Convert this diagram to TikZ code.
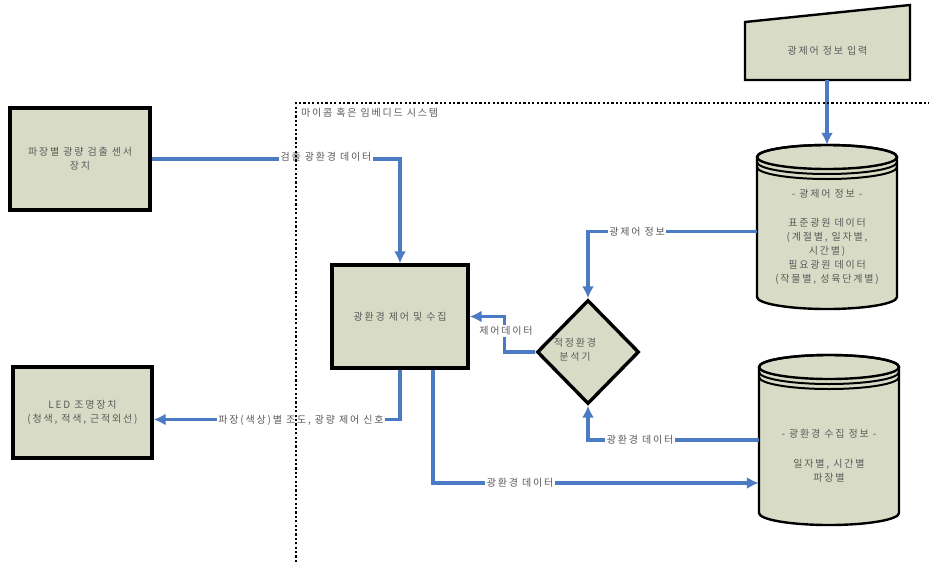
\documentclass[tikz,border=0pt]{standalone}
\usepackage{fontspec}
\setmainfont{Noto Sans CJK KR}[LetterSpace=18]
\usetikzlibrary{arrows.meta,shapes.geometric,calc}
\definecolor{boxfill}{HTML}{D8DCC6}
\definecolor{conblue}{HTML}{4A7BC4}
\definecolor{txtgray}{HTML}{5A5A5A}
\tikzset{
  base/.style={font=\fontsize{10}{14}\selectfont, text=txtgray, align=center},
  blockbox/.style={base, draw=black, line width=3.4pt, fill=boxfill, inner sep=0pt},
  conn/.style={draw=conblue, line width=3.2pt, -{Latex[length=12pt,width=12pt]}},
  lbl/.style={base, fill=white, inner sep=1.5pt},
  cylline/.style={draw=black, line width=2.4pt, fill=boxfill},
  sysframe/.style={draw=black, line width=2.2pt, dash pattern=on 2.2pt off 2.2pt},
  ghost/.style={inner sep=0pt, draw=none}
}
\begin{document}
\begin{tikzpicture}[x=1pt,y=-1pt]
\useasboundingbox (0,0) rectangle (929,562);

% manual input trapezoid
\path[cylline] (745,22) -- (910,5) -- (910,80) -- (745,80) -- cycle;
\node[base, ghost, minimum width=165pt, minimum height=58pt] (input) at (827.5,51) {광제어 정보 입력};

% cylinder 1
\path[cylline] (757,157) -- (757,297) arc[start angle=180,end angle=360,x radius=70pt,y radius=12pt]
  -- (897,157) arc[start angle=0,end angle=180,x radius=70pt,y radius=12pt] -- cycle;
\draw[line width=2.4pt] (827,157) ellipse [x radius=70pt, y radius=12pt];
\draw[line width=2pt] (757,162) arc[start angle=180,end angle=360,x radius=70pt,y radius=12pt];
\draw[line width=2pt] (757,167) arc[start angle=180,end angle=360,x radius=70pt,y radius=12pt];
\node[ghost, minimum width=140pt, minimum height=164pt] (cyl1) at (827,227) {};
\node[base] (c1t) at (827,237) {- 광제어 정보 -\\[15pt]표준광원 데이터\\(계절별, 일자별,\\시간별)\\필요광원 데이터\\(작물별, 성육단계별)};

% cylinder 2
\path[cylline] (759,367) -- (759,513) arc[start angle=180,end angle=360,x radius=70pt,y radius=12pt]
  -- (899,367) arc[start angle=0,end angle=180,x radius=70pt,y radius=12pt] -- cycle;
\draw[line width=2.4pt] (829,367) ellipse [x radius=70pt, y radius=12pt];
\draw[line width=2pt] (759,372) arc[start angle=180,end angle=360,x radius=70pt,y radius=12pt];
\draw[line width=2pt] (759,377) arc[start angle=180,end angle=360,x radius=70pt,y radius=12pt];
\node[ghost, minimum width=140pt, minimum height=170pt] (cyl2) at (829,440) {};
\node[base] (c2t) at (829,456) {- 광환경 수집 정보 -\\[16pt]일자별, 시간별\\파장별};

% boxes
\node[blockbox, minimum width=140pt, minimum height=102pt] (sensor) at (80,159) {파장별 광량 검출 센서\\장치};
\node[blockbox, minimum width=136pt, minimum height=103pt] (center) at (400,316.5) {광환경 제어 및 수집};
\node[blockbox, minimum width=139pt, minimum height=91pt] (led) at (82.5,412.5) {LED 조명장치\\(청색, 적색, 근적외선)};
\node[blockbox, diamond, minimum width=102pt, minimum height=104pt] (dia) at (588,352) {};
\node[base] (diat) at (575,350) {적정환경\\분석기};

% connectors
\draw[conn] (input.south -| cyl1.north) -- (cyl1.north);
\draw[conn] (sensor.east) -| (center.north);
\draw[conn] ([yshift=-4.5pt]cyl1.west) -| (dia.north);
\draw[conn] (dia.west) -- ++(-31pt,0pt) |- (center.east);
\draw[conn] (cyl2.west) -| (dia.south);
\draw[conn] ([xshift=33pt]center.south) |- ([yshift=-43pt]cyl2.west);
\draw[conn] (center.south) |- ([yshift=-7pt]led.east);

% labels
\node[lbl] (l1) at (326,157) {검출 광환경 데이터};
\node[lbl] (l2) at (637,231.5) {광제어 정보};
\node[lbl] (l3) at (506,331) {제어데이터};
\node[lbl] (l4) at (640,440) {광환경 데이터};
\node[lbl] (l5) at (520,483) {광환경 데이터};
\node[lbl] (l6) at (301,420) {파장(색상)별 조도, 광량 제어 신호};

% system frame
\node[base, anchor=west, inner sep=0pt] (syslbl) at (301,113) {마이콤 혹은 임베디드 시스템};
\draw[sysframe] (296,562) -- (296,103) -- (929,103);
\end{tikzpicture}
\end{document}
